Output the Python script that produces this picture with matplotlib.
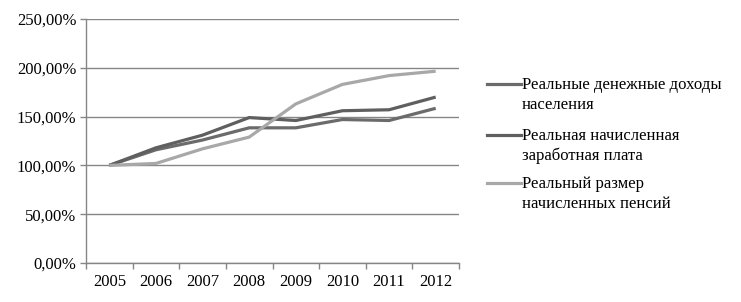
import numpy as np
import matplotlib.pyplot as plt
from matplotlib.lines import Line2D
from matplotlib.ticker import FuncFormatter

plt.rcParams['font.family'] = ['Liberation Serif', 'DejaVu Serif']

# Данные (в % к 2005 году)
years = ['2005', '2006', '2007', '2008', '2009', '2010', '2011', '2012']
dohody = [100, 116, 126, 138.5, 138.5, 147, 146, 158.5]
zarplata = [100, 118, 131, 149, 146, 156, 157, 170]
pensii = [100, 102, 117, 129, 163, 183, 192, 196.5]

labels = ['Реальные денежные доходы\nнаселения',
          'Реальная начисленная\nзаработная плата',
          'Реальный размер\nначисленных пенсий']
colors = ['#6b6b6b', '#5f5f5f', '#a8a8a8']

fig = plt.figure(figsize=(7.41, 3.02), dpi=100)
ax = fig.add_axes([86 / 741, 39 / 302, 373 / 741, 244 / 302])

x = np.arange(len(years)) + 0.5
for vals, c in zip([dohody, zarplata, pensii], colors):
    ax.plot(x, vals, color=c, linewidth=2.3, solid_capstyle='butt')

ax.set_xlim(0, len(years))
ax.set_ylim(0, 250)
ax.set_yticks(np.arange(0, 251, 50))
ax.yaxis.set_major_formatter(FuncFormatter(lambda v, p: f'{v:.2f}%'.replace('.', ',')))
ax.yaxis.grid(True, color='#868686', linewidth=1)
ax.set_axisbelow(True)

ax.set_xticks(np.arange(0, len(years) + 1))
ax.set_xticklabels([])
ax.set_xticks(x, minor=True)
ax.set_xticklabels(years, minor=True)
ax.tick_params(axis='x', which='minor', length=0, pad=8, labelsize=12)
ax.tick_params(axis='x', which='major', length=4, color='#868686', width=1)
ax.tick_params(axis='y', length=4, color='#868686', width=1, pad=3, labelsize=12)

for s in ['top', 'right']:
    ax.spines[s].set_visible(False)
for s in ['left', 'bottom']:
    ax.spines[s].set_color('#868686')
    ax.spines[s].set_linewidth(1)

# Легенда справа
entry_y = [84, 135, 183]
for lab, c, yy in zip(labels, colors, entry_y):
    yf = 1 - yy / 302
    fig.add_artist(Line2D([487 / 741, 521 / 741], [yf, yf], color=c, linewidth=2.3,
                          transform=fig.transFigure))
    fig.text(522 / 741, yf + 7 / 302, lab, fontsize=12, va='top', ha='left',
             linespacing=1.3)

fig.savefig('out.png', dpi=100)
